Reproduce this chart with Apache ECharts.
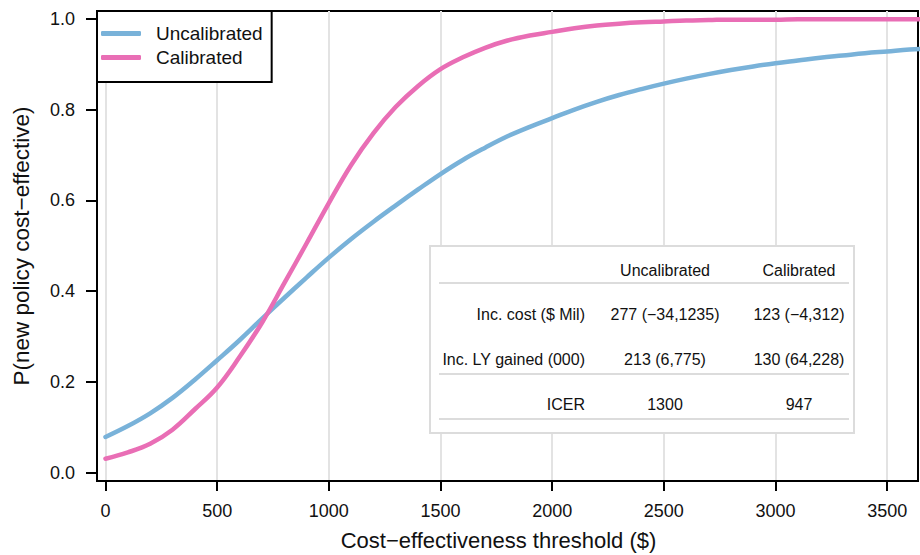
<!DOCTYPE html>
<html>
<head>
<meta charset="utf-8">
<script src="https://cdn.jsdelivr.net/npm/echarts@6/dist/echarts.min.js"></script>
<style>html,body{margin:0;padding:0;background:#fff;}#main{width:920px;height:555px;}</style>
</head>
<body>
<div id="main"></div>
<script>
// ---- data ----
const thresholds = [0,100,200,300,400,500,600,700,800,900,1000,1100,1200,1300,1400,1500,1600,1700,1800,1900,2000,2100,2200,2300,2400,2500,2600,2700,2800,2900,3000,3100,3200,3300,3400,3500,3600,3700];
const uncalibrated = [0.079,0.103,0.131,0.165,0.205,0.248,0.292,0.339,0.385,0.430,0.474,0.515,0.553,0.589,0.624,0.658,0.689,0.716,0.741,0.762,0.781,0.800,0.817,0.832,0.845,0.857,0.868,0.878,0.887,0.895,0.902,0.908,0.914,0.919,0.924,0.928,0.932,0.935];
const calibrated = [0.031,0.045,0.064,0.095,0.140,0.188,0.255,0.330,0.417,0.505,0.594,0.678,0.748,0.806,0.852,0.889,0.915,0.936,0.952,0.963,0.971,0.979,0.985,0.989,0.992,0.994,0.996,0.997,0.998,0.998,0.998,0.999,0.999,0.999,0.999,0.999,0.999,0.999];
const xTicks = [0,500,1000,1500,2000,2500,3000,3500];
const yTicks = [0,0.2,0.4,0.6,0.8,1.0];
const seriesNames = ['Uncalibrated','Calibrated'];
const tableCols = ['Uncalibrated','Calibrated'];
const tableRowLabels = ['Inc. cost ($ Mil)','Inc. LY gained (000)','ICER'];
const tableUncal = ['277 (\u221234,1235)','213 (6,775)','1300'];
const tableCal = ['123 (\u22124,312)','130 (64,228)','947'];

const FONT = '"Liberation Sans", Arial, Helvetica, sans-serif';
const BLUE = '#79b2d9';
const PINK = '#e96eb5';

const chart = echarts.init(document.getElementById('main'), null, {renderer:'svg'});

// table graphic built from arrays
const tX = 429, tY = 245, tW = 424, tH = 187;
const colCenters = [235, 369];
const labelRight = 155;
const headerY = 24;
const rowYs = [68, 113, 158];
const lineYs = [37, 128, 173];
const tableChildren = [{
  type:'rect', z:100, shape:{x:0,y:0,width:tW,height:tH},
  style:{fill:'#fff', stroke:'#dcdcdc', lineWidth:2}
}];
const txt = (x,y,t,align) => ({type:'text', z:102, x:x, y:y, style:{text:t, font:'16px '+FONT, fill:'#111', align:align, verticalAlign:'middle'}});
tableCols.forEach((c,i)=>tableChildren.push(txt(colCenters[i], headerY, c, 'center')));
tableRowLabels.forEach((r,i)=>{
  tableChildren.push(txt(labelRight, rowYs[i], r, 'right'));
  tableChildren.push(txt(colCenters[0], rowYs[i], tableUncal[i], 'center'));
  tableChildren.push(txt(colCenters[1], rowYs[i], tableCal[i], 'center'));
});
lineYs.forEach(y=>tableChildren.push({type:'line', z:101, shape:{x1:9,y1:y,x2:419,y2:y}, style:{stroke:'#dcdcdc', lineWidth:2}}));

const option = {
  backgroundColor:'#fff',
  animation:false,
  textStyle:{fontFamily:FONT},
  grid:{left:97, right:2, top:11, bottom:74, outerBoundsMode:'none', containLabel:false,
        show:true, borderColor:'#000', borderWidth:2, backgroundColor:'transparent'},
  legend:{
    left:97, top:11, orient:'vertical',
    data:seriesNames,
    backgroundColor:'#fff', borderColor:'#000', borderWidth:2, borderRadius:0,
    padding:[12,9,14,4],
    itemWidth:40, itemHeight:5, itemGap:3, icon:'roundRect',
    textStyle:{fontSize:19, color:'#111', fontFamily:FONT, lineHeight:21, padding:[0,0,0,10]}
  },
  xAxis:{
    type:'value', min:-38, max:3638,
    name:'Cost\u2212effectiveness threshold ($)', nameLocation:'middle', nameGap:48,
    nameTextStyle:{fontSize:22, color:'#111', fontFamily:FONT, padding:[0,18,0,0]},
    axisLine:{show:true, onZero:false, lineStyle:{color:'#000', width:2}},
    axisTick:{show:true, length:10, lineStyle:{color:'#000', width:2}, customValues:xTicks},
    axisLabel:{fontSize:18, color:'#111', margin:21, fontFamily:FONT, customValues:xTicks, formatter:v=>String(v)},
    splitLine:{show:true, lineStyle:{color:'#e3e3e3', width:2}}
  },
  yAxis:{
    type:'value', min:-0.018, max:1.017,
    name:'P(new policy cost\u2212effective)', nameLocation:'middle', nameGap:64, nameRotate:90,
    nameTextStyle:{fontSize:22.5, color:'#111', fontFamily:FONT},
    axisLine:{show:true, onZero:false, lineStyle:{color:'#000', width:2}},
    axisTick:{show:true, length:11, lineStyle:{color:'#000', width:2}, customValues:yTicks},
    axisLabel:{fontSize:18, color:'#111', margin:22, fontFamily:FONT, customValues:yTicks, formatter:v=>v.toFixed(1)},
    splitLine:{show:false}
  },
  series:[
    {name:seriesNames[0], type:'line', data:thresholds.map((x,i)=>[x,uncalibrated[i]]),
     showSymbol:false, smooth:0.4, clip:true,
     lineStyle:{color:BLUE, width:4.5, cap:'round', join:'round'}, itemStyle:{color:BLUE}},
    {name:seriesNames[1], type:'line', data:thresholds.map((x,i)=>[x,calibrated[i]]),
     showSymbol:false, smooth:0.4, clip:true,
     lineStyle:{color:PINK, width:4.5, cap:'round', join:'round'}, itemStyle:{color:PINK}}
  ],
  graphic:[{type:'group', left:tX, top:tY, z:100, children:tableChildren}]
};
chart.setOption(option);
</script>
</body>
</html>
